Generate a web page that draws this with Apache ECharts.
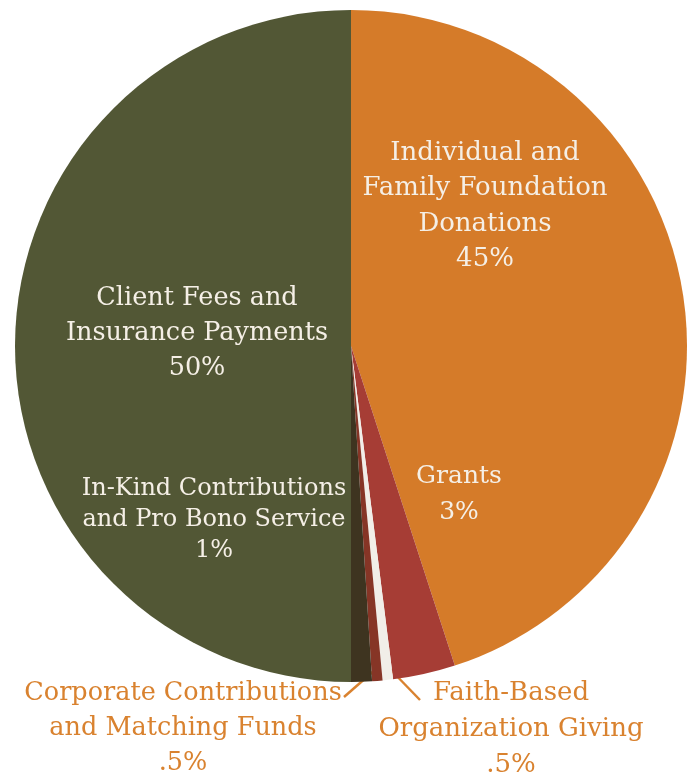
<!DOCTYPE html>
<html>
<head>
<meta charset="utf-8">
<script src="https://cdn.jsdelivr.net/npm/echarts@6/dist/echarts.min.js"></script>
<style>html,body{margin:0;padding:0;background:#fff;}#c{width:694px;height:778px;}</style>
</head>
<body>
<div id="c"></div>
<script>
const categories = [
  "Individual and\nFamily Foundation\nDonations",
  "Grants",
  "Faith-Based\nOrganization Giving",
  "Corporate Contributions\nand Matching Funds",
  "In-Kind Contributions\nand Pro Bono Service",
  "Client Fees and\nInsurance Payments"
];
const values = [45, 3, 0.5, 0.5, 1, 50];
const valueLabels = ["45%", "3%", ".5%", ".5%", "1%", "50%"];
const colors = ["#d57b29", "#a63d35", "#f1eee8", "#863526", "#3e3420", "#525735"];

const labelPos = [
  {x: 485, y: 206, size: 26, lh: 35.5, color: "#f5efe6"},
  {x: 459, y: 494, size: 25, lh: 36, color: "#f5efe6"},
  {x: 511, y: 729, size: 26, lh: 36, color: "#d9822f"},
  {x: 183, y: 728, size: 25.5, lh: 35, color: "#d9822f"},
  {x: 214, y: 520, size: 24, lh: 31, color: "#f5efe6"},
  {x: 197, y: 333, size: 25.5, lh: 35, color: "#f5efe6"}
];

const chart = echarts.init(document.getElementById('c'), null, {renderer: 'canvas'});
chart.setOption({
  animation: false,
  backgroundColor: '#ffffff',
  series: [{
    type: 'pie',
    center: [351, 346],
    radius: [0, 336],
    startAngle: 90,
    clockwise: true,
    silent: true,
    avoidLabelOverlap: false,
    data: categories.map((n, i) => ({
      name: n, value: values[i],
      itemStyle: {color: colors[i]},
      label: {
        color: labelPos[i].color,
        fontSize: labelPos[i].size,
        lineHeight: labelPos[i].lh
      }
    })),
    label: {
      show: true,
      position: 'inside',
      fontFamily: 'DejaVu Serif',
      fontWeight: 'normal',
      align: 'center',
      formatter: p => p.name + '\n' + valueLabels[p.dataIndex]
    },
    labelLine: {show: false},
    labelLayout: p => ({
      x: labelPos[p.dataIndex].x,
      y: labelPos[p.dataIndex].y,
      align: 'center',
      verticalAlign: 'middle'
    }),
    itemStyle: {borderWidth: 0}
  }],
  graphic: [
    {type: 'line', shape: {x1: 389, y1: 508, x2: 437, y2: 508}, style: {stroke: '#f5efe6', lineWidth: 2.5}},
    {type: 'line', shape: {x1: 243, y1: 550, x2: 357, y2: 550}, style: {stroke: '#f5efe6', lineWidth: 2.5}},
    {type: 'line', shape: {x1: 344, y1: 697, x2: 376, y2: 669}, style: {stroke: '#d9822f', lineWidth: 2.5}},
    {type: 'line', shape: {x1: 389, y1: 668, x2: 420, y2: 700}, style: {stroke: '#d9822f', lineWidth: 2.5}}
  ]
});
</script>
</body>
</html>
